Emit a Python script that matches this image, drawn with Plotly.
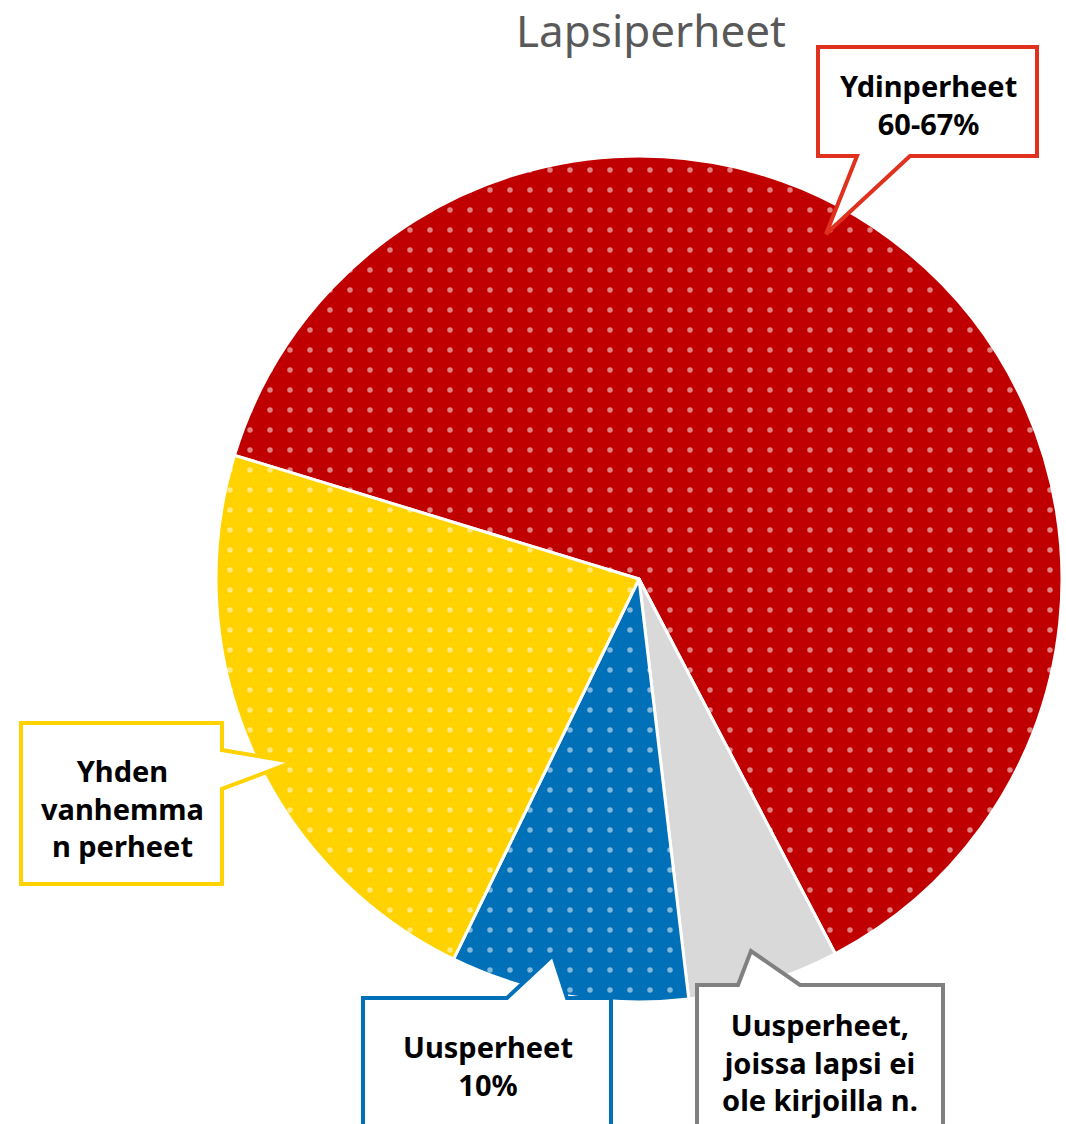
import plotly.graph_objects as go

W, H = 1066, 1124

# Data
categories = ["Ydinperheet", "Uusperheet, joissa lapsi ei ole kirjoilla n.", "Uusperheet", "Yhden vanhemman perheet"]
values = [62.6, 5.8, 9.1, 22.5]
slice_colors = ["#C00000", "#D9D9D9", "#0070B8", "#FFD200"]
slice_patterns = [".", "", ".", "."]
label_texts = ["Ydinperheet<br>60-67%",
               "Uusperheet,<br>joissa lapsi ei<br>ole kirjoilla n.",
               "Uusperheet<br>10%",
               "Yhden<br>vanhemma<br>n perheet"]
border_colors = ["#E0301E", "#808080", "#0070B8", "#FFD200"]


def px(x):
    return x / W


def py(y):
    return 1 - y / H


# Pie geometry (pixels)
cx, cy, r = 639, 579, 423

fig = go.Figure(go.Pie(
    labels=categories,
    values=values,
    sort=False,
    direction="clockwise",
    rotation=-73,
    textinfo="none",
    hoverinfo="label+percent",
    marker=dict(
        colors=slice_colors,
        line=dict(color="white", width=3),
        pattern=dict(shape=slice_patterns, fgcolor="white", size=20, solidity=0.06, fillmode="overlay"),
    ),
    domain=dict(x=[px(cx - r), px(cx + r)], y=[py(cy + r), py(cy - r)]),
    showlegend=False,
))

# Callout outlines (box + pointer), pixel polygons
callouts = [
    [(818, 47), (1037, 47), (1037, 156), (910, 156), (826, 234), (857, 156), (818, 156)],
    [(697, 985), (738, 985), (751, 951), (800, 985), (943, 985), (943, 1140), (697, 1140)],
    [(363, 998), (507, 998), (553, 955), (567, 998), (611, 998), (611, 1140), (363, 1140)],
    [(21, 723), (222, 723), (222, 750), (293, 762), (222, 789), (222, 884), (21, 884)],
]
text_pos = [(928, 104), (820, 1062), (488, 1065), (122, 808)]

shapes = []
for poly, col in zip(callouts, border_colors):
    path = "M " + " L ".join(f"{px(x):.5f},{py(y):.5f}" for x, y in poly) + " Z"
    shapes.append(dict(type="path", xref="paper", yref="paper", path=path,
                       fillcolor="white", line=dict(color=col, width=4), layer="above"))

annotations = []
for t, (x, y) in zip(label_texts, text_pos):
    annotations.append(dict(text=t, x=px(x), y=py(y), xref="paper", yref="paper",
                            showarrow=False, xanchor="center", yanchor="middle",
                            font=dict(family="Noto Sans", size=29, color="black", weight="bold"),
                            align="center"))

annotations.append(dict(text="Lapsiperheet", x=px(651), y=py(30), xref="paper", yref="paper",
                        showarrow=False, xanchor="center", yanchor="middle",
                        font=dict(family="Noto Sans", size=44, color="#595959")))

fig.update_layout(
    width=W, height=H,
    margin=dict(l=0, r=0, t=0, b=0),
    paper_bgcolor="white",
    plot_bgcolor="white",
    shapes=shapes,
    annotations=annotations,
)

fig.write_html("out.html", config={"displayModeBar": False},
               post_script="document.body.style.margin='0';document.body.style.overflow='hidden';")
